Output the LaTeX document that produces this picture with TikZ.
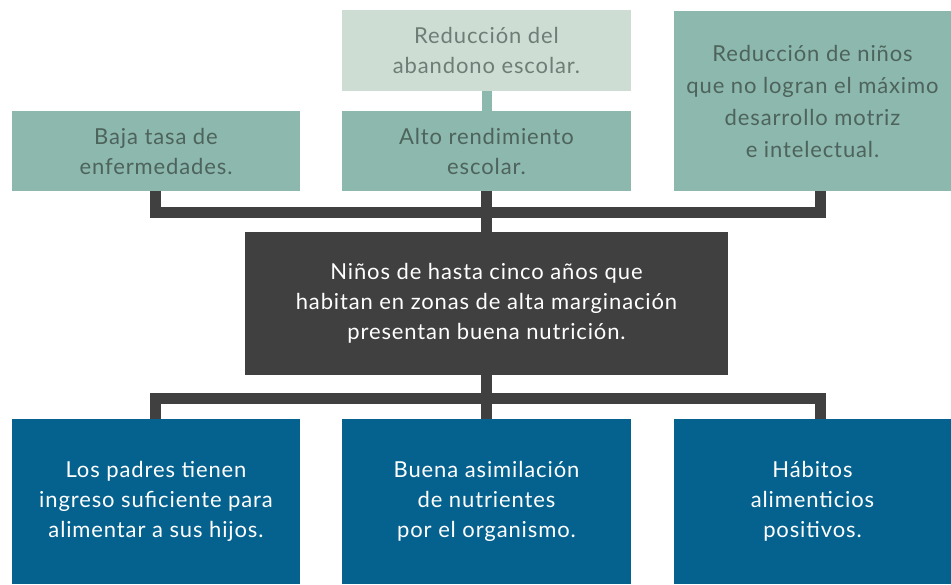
\documentclass[tikz,border=0pt]{standalone}
\usepackage{fontspec}
\setmainfont[LetterSpace=4]{Lato}
\definecolor{tealbox}{HTML}{8CB8AD}
\definecolor{lightbox}{HTML}{CDDDD4}
\definecolor{darkbox}{HTML}{404040}
\definecolor{bluebox}{HTML}{05628E}
\definecolor{tealtext}{HTML}{4D635B}
\definecolor{lighttext}{HTML}{6E7D75}
\tikzset{
  boxbase/.style={rectangle, inner sep=0pt, align=center, font=\fontsize{22}{30}\selectfont},
  tealnode/.style={boxbase, fill=tealbox, text=tealtext},
  lightnode/.style={boxbase, fill=lightbox, text=lighttext},
  darknode/.style={boxbase, fill=darkbox, text=white},
  bluenode/.style={boxbase, fill=bluebox, text=white},
  conn/.style={draw=darkbox, line width=11pt, line join=miter},
  tconn/.style={draw=tealbox, line width=10pt}
}
\begin{document}
\begin{tikzpicture}[x=1pt,y=-1pt]
\useasboundingbox (0,0) rectangle (951,584);
\coordinate (jt) at (486.5,212.5);
\coordinate (jb) at (486.5,398.5);
\node[tealnode, minimum width=288pt, minimum height=80pt] (lt) at (156,151) {Baja tasa de\\enfermedades.};
\node[tealnode, minimum width=289pt, minimum height=80pt] (mt) at (486.5,151) {Alto rendimiento\\escolar.};
\node[lightnode, minimum width=289pt, minimum height=81pt] (top) at (486.5,50.5) {Reducción del\\abandono escolar.};
\node[tealnode, minimum width=277pt, minimum height=180pt, font=\fontsize{22}{32}\selectfont] (rt) at (812.5,101) {Reducción de niños\\que no logran el máximo\\desarrollo motriz\\e intelectual.};
\node[darknode, minimum width=483pt, minimum height=143pt] (ctr) at (486.5,303.5) {Niños de hasta cinco años que\\habitan en zonas de alta marginación\\presentan buena nutrición.};
\node[bluenode, minimum width=288pt, minimum height=165pt] (lb) at (156,501.5) {Los padres tienen\\ingreso suficiente para\\alimentar a sus hijos.};
\node[bluenode, minimum width=289pt, minimum height=165pt] (mb) at (486.5,501.5) {Buena asimilación\\de nutrientes\\por el organismo.};
\node[bluenode, minimum width=277pt, minimum height=165pt] (rb) at (812.5,501.5) {Hábitos\\alimenticios\\positivos.};
\draw[tconn] (top.south) -- (mt.north);
\draw[conn] ([xshift=-1pt]lt.south) |- (jt) -| ([xshift=8pt]rt.south);
\draw[conn] (mt.south) -- (ctr.north);
\draw[conn] (ctr.south) -- (mb.north);
\draw[conn] ([xshift=-1pt]lb.north) |- (jb) -| ([xshift=8pt]rb.north);
\end{tikzpicture}
\end{document}
